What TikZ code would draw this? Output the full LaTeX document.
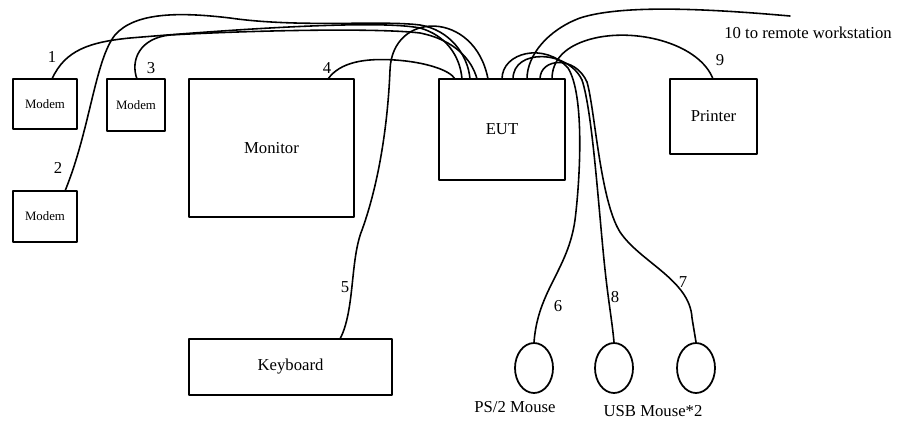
\documentclass[tikz,border=0pt]{standalone}
\usepackage{fontspec}
\setmainfont{Liberation Serif}
\usetikzlibrary{shapes.geometric}
\tikzset{
  box/.style={draw, line width=1pt, inner sep=0pt},
  mouse/.style={draw, ellipse, line width=1pt, minimum width=0.76cm, minimum height=1cm, inner sep=0pt},
  cable/.style={line width=0.9pt},
}
\newcommand{\modemfont}{\fontsize{7.3}{8}\selectfont}
\begin{document}
\begin{tikzpicture}[x=0.02cm, y=-0.02cm, font=\fontsize{9.5}{11}\selectfont, line join=round, line cap=round]
				\useasboundingbox (0,0) rectangle (898,423);
				% boxes
				\node[box, minimum width=1.28cm, minimum height=1cm, font=\modemfont] (m1) at (45,104) {Modem};
				\node[box, minimum width=1.16cm, minimum height=1.04cm, font=\modemfont] (m3) at (136,105) {Modem};
				\node[box, minimum width=1.28cm, minimum height=1.02cm, font=\modemfont] (m2) at (45,216.5) {Modem};
				\node[box, minimum width=3.3cm, minimum height=2.76cm] (mon) at (271.5,148) {Monitor};
				\node[box, minimum width=2.52cm, minimum height=2.02cm] (eut) at (502,129.5) {EUT};
				\node[box, minimum width=1.74cm, minimum height=1.5cm] (prn) at (713.5,116.5) {Printer};
				\node[box, minimum width=4.06cm, minimum height=1.12cm] (kbd) at (290.5,367) {Keyboard};
				\node[mouse] (ps2) at (534,368) {};
				\node[mouse] (usb1) at (614,368) {};
				\node[mouse] (usb2) at (696,368) {};
				% ports
				\path
				(52,79) coordinate (p1)
				(65,191) coordinate (p2)
				(137,79) coordinate (p3)
				(328,79) coordinate (p4)
				(340,339) coordinate (p5)
				(713,79) coordinate (p9)
				(790,16) coordinate (p10)
				(455,79) coordinate (e4)
				(462,79) coordinate (e1)
				(470,79) coordinate (e2)
				(477,79) coordinate (e3)
				(488,79) coordinate (e5)
				(502,79) coordinate (e6)
				(513,79) coordinate (e8)
				(527,79) coordinate (e10)
				(540,79) coordinate (e7)
				(552,79) coordinate (e9)
				;
				% cables
				\draw[cable] (p1) .. controls (65,50) and (90,42) .. (130,38) .. controls (250,28) and (380,20) .. (420,28) .. controls (445,35) and (460,55) .. (e1);
				\draw[cable] (p2) .. controls (90,130) and (95,60) .. (115,35) .. controls (135,12) and (180,12) .. (230,18) .. controls (300,28) and (380,20) .. (420,25) .. controls (450,30) and (468,55) .. (e2);
				\draw[cable] (p3) .. controls (130,60) and (140,38) .. (170,35) .. controls (260,30) and (380,28) .. (420,33) .. controls (455,40) and (472,60) .. (e3);
				\draw[cable] (p4) .. controls (340,62) and (365,58) .. (395,60) .. controls (425,62) and (450,70) .. (e4);
				\draw[cable] (p5) .. controls (355,310) and (350,260) .. (362,230) .. controls (380,180) and (388,120) .. (390,70) .. controls (392,10) and (475,10) .. (e5);
				\draw[cable] (e6) .. controls (502,52) and (545,42) .. (568,68) .. controls (585,95) and (580,180) .. (575,220) .. controls (568,270) and (538,290) .. (ps2.north);
				\draw[cable] (e8) .. controls (513,48) and (568,50) .. (582,80) .. controls (592,110) and (598,200) .. (604,260) .. controls (608,300) and (612,320) .. (usb1.north);
				\draw[cable] (e7) .. controls (540,58) and (575,55) .. (587,82) .. controls (595,110) and (600,200) .. (620,232) .. controls (640,262) and (690,280) .. (692,318) -- (usb2.north);
				\draw[cable] (e9) .. controls (552,60) and (565,45) .. (595,38) .. controls (640,28) and (700,45) .. (p9);
				\draw[cable] (e10) .. controls (527,55) and (548,30) .. (580,18) .. controls (620,5) and (700,8) .. (p10);
				% labels
				\node (l1) at (52,57) {1};
				\node (l2) at (58,168) {2};
				\node (l3) at (151,68) {3};
				\node (l4) at (327,68) {4};
				\node (l5) at (345,287) {5};
				\node (l6) at (558,306) {6};
				\node (l8) at (615,297) {8};
				\node (l7) at (683,282) {7};
				\node (l9) at (720,60) {9};
				\node (l10) at (808,33) {10 to remote workstation};
				\node (lps2) at (515,407) {PS/2 Mouse};
				\node (lusb) at (653,411) {USB Mouse*2};
			\end{tikzpicture}
\end{document}
